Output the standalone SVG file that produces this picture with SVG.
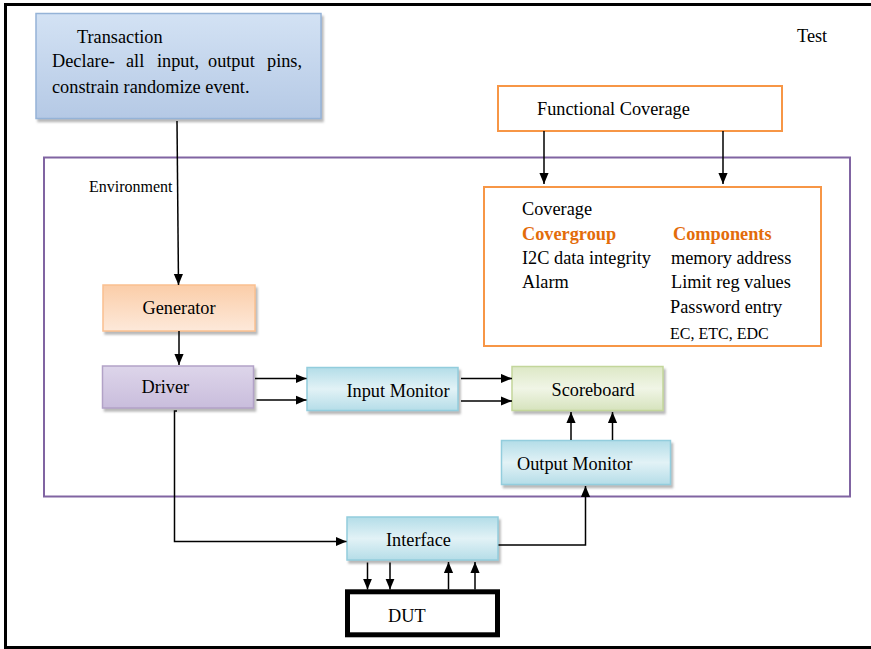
<svg xmlns="http://www.w3.org/2000/svg" width="871" height="649" viewBox="0 0 871 649">
  <style>
    text { font-family: "Liberation Serif", "Times New Roman", serif; font-size: 18.3px; fill: #000; }
    .small { font-size: 16px; }
    .head { font-weight: bold; fill: #e36c0a; }
    .wire { fill: none; stroke: #000; stroke-width: 1.5; }
    .orange { fill: #fff; stroke: #f79646; stroke-width: 2; }
  </style>
  <defs>
    <marker id="arrow" viewBox="0 0 12 10" refX="12" refY="5" markerWidth="11" markerHeight="10" markerUnits="userSpaceOnUse" orient="auto">
      <path d="M0,0 L12,5 L0,10 z" fill="#000"/>
    </marker>
    <filter id="shadow" x="-5%" y="-10%" width="115%" height="130%">
      <feDropShadow dx="2" dy="3" stdDeviation="1" flood-color="#808080" flood-opacity="0.55"/>
    </filter>
    <linearGradient id="gTrans" x1="0" y1="0" x2="0" y2="1">
      <stop offset="0" stop-color="#d3e2f4"/>
      <stop offset="1" stop-color="#b5c9e5"/>
    </linearGradient>
    <linearGradient id="gGen" x1="0" y1="0" x2="0" y2="1">
      <stop offset="0" stop-color="#fbcda8"/>
      <stop offset="1" stop-color="#fde9da"/>
    </linearGradient>
    <linearGradient id="gDrv" x1="0" y1="0" x2="0" y2="1">
      <stop offset="0" stop-color="#ddd5ea"/>
      <stop offset="1" stop-color="#c9bddc"/>
    </linearGradient>
    <linearGradient id="gBlue" x1="0" y1="0" x2="0" y2="1">
      <stop offset="0" stop-color="#b3dde8"/>
      <stop offset="0.5" stop-color="#e2f2f6"/>
      <stop offset="1" stop-color="#b5dde8"/>
    </linearGradient>
    <linearGradient id="gGreen" x1="0" y1="0" x2="0" y2="1">
      <stop offset="0" stop-color="#dde8c6"/>
      <stop offset="0.5" stop-color="#f0f5e6"/>
      <stop offset="1" stop-color="#d6e3bd"/>
    </linearGradient>
  </defs>

  <rect width="871" height="649" fill="#fff"/>

  <!-- page frame (open on the right) -->
  <rect x="5.5" y="4.5" width="880" height="643" fill="none" stroke="#000" stroke-width="3"/>

  <text x="797" y="42">Test</text>

  <!-- environment boundary -->
  <g id="environment">
    <rect x="44" y="157.5" width="806" height="339" fill="none" stroke="#8064a2" stroke-width="2"/>
    <text class="small" x="89" y="192">Environment</text>
  </g>

  <g id="transaction">
    <rect x="36" y="13.5" width="285" height="105" fill="url(#gTrans)" stroke="#95b3d7" stroke-width="1.5" filter="url(#shadow)"/>
    <text x="77" y="43">Transaction</text>
    <text x="52" y="67">Declare-</text>
    <text x="126" y="67">all</text>
    <text x="157" y="67">input,</text>
    <text x="208" y="67">output</text>
    <text x="267" y="67">pins,</text>
    <text x="52" y="93">constrain randomize event.</text>
  </g>

  <g id="functional-coverage">
    <rect class="orange" x="498" y="86" width="284" height="45"/>
    <text x="537" y="115">Functional Coverage</text>
  </g>

  <g id="coverage">
    <rect class="orange" x="484" y="187" width="337" height="159"/>
    <text x="522" y="215">Coverage</text>
    <text class="head" x="522" y="240">Covergroup</text>
    <text class="head" x="673" y="240">Components</text>
    <text x="522" y="264">I2C data integrity</text>
    <text x="671" y="264">memory address</text>
    <text x="522" y="288">Alarm</text>
    <text x="671" y="288">Limit reg values</text>
    <text x="670" y="313">Password entry</text>
    <text class="small" x="670" y="339">EC, ETC, EDC</text>
  </g>

  <g id="generator">
    <rect x="103" y="285" width="152" height="46" fill="url(#gGen)" stroke="#fac090" stroke-width="1.5" filter="url(#shadow)"/>
    <text x="142.5" y="314">Generator</text>
  </g>

  <g id="driver">
    <rect x="102.5" y="366" width="151" height="42" fill="url(#gDrv)" stroke="#b2a2c7" stroke-width="1.5" filter="url(#shadow)"/>
    <text x="141.5" y="393">Driver</text>
  </g>

  <g id="input-monitor">
    <rect x="307" y="367.5" width="151" height="43" fill="url(#gBlue)" stroke="#93cddd" stroke-width="1.5" filter="url(#shadow)"/>
    <text x="346.5" y="397">Input Monitor</text>
  </g>

  <g id="scoreboard">
    <rect x="512" y="366.5" width="151" height="44" fill="url(#gGreen)" stroke="#c3d69b" stroke-width="1.5" filter="url(#shadow)"/>
    <text x="551.5" y="396">Scoreboard</text>
  </g>

  <g id="output-monitor">
    <rect x="501.5" y="440.5" width="169" height="44" fill="url(#gBlue)" stroke="#93cddd" stroke-width="1.5" filter="url(#shadow)"/>
    <text x="517" y="470">Output Monitor</text>
  </g>

  <g id="interface">
    <rect x="347" y="517" width="151" height="43" fill="url(#gBlue)" stroke="#93cddd" stroke-width="1.5" filter="url(#shadow)"/>
    <text x="386" y="546">Interface</text>
  </g>

  <g id="dut">
    <rect x="347.5" y="591.8" width="150" height="43" fill="#fff" stroke="#000" stroke-width="5"/>
    <text x="388" y="622">DUT</text>
  </g>

  <g id="connectors">
    <path class="wire" d="M177,121 L178.5,285" marker-end="url(#arrow)"/>
    <path class="wire" d="M544,131 L544,184" marker-end="url(#arrow)"/>
    <path class="wire" d="M723,131 L723,184" marker-end="url(#arrow)"/>
    <path class="wire" d="M179,331 L179,365" marker-end="url(#arrow)"/>
    <path class="wire" d="M255,378.5 L306.5,378.5" marker-end="url(#arrow)"/>
    <path class="wire" d="M256.5,400 L306.5,400" marker-end="url(#arrow)"/>
    <path class="wire" d="M461,378.5 L512,378.5" marker-end="url(#arrow)"/>
    <path class="wire" d="M461,401 L512,401" marker-end="url(#arrow)"/>
    <path class="wire" d="M571,440 L571,412" marker-end="url(#arrow)"/>
    <path class="wire" d="M612.5,440 L612.5,412" marker-end="url(#arrow)"/>
    <path class="wire" d="M177,411 L174.5,411 L174.5,541.5 L346.5,541.5" marker-end="url(#arrow)"/>
    <path class="wire" d="M498.5,545 L585.5,545 L585.5,486" marker-end="url(#arrow)"/>
    <path class="wire" d="M367.5,562.5 L367.5,589.5" marker-end="url(#arrow)"/>
    <path class="wire" d="M390,562.5 L390,589.5" marker-end="url(#arrow)"/>
    <path class="wire" d="M448.5,589.5 L448.5,562" marker-end="url(#arrow)"/>
    <path class="wire" d="M475,589.5 L475,562" marker-end="url(#arrow)"/>
  </g>
</svg>
